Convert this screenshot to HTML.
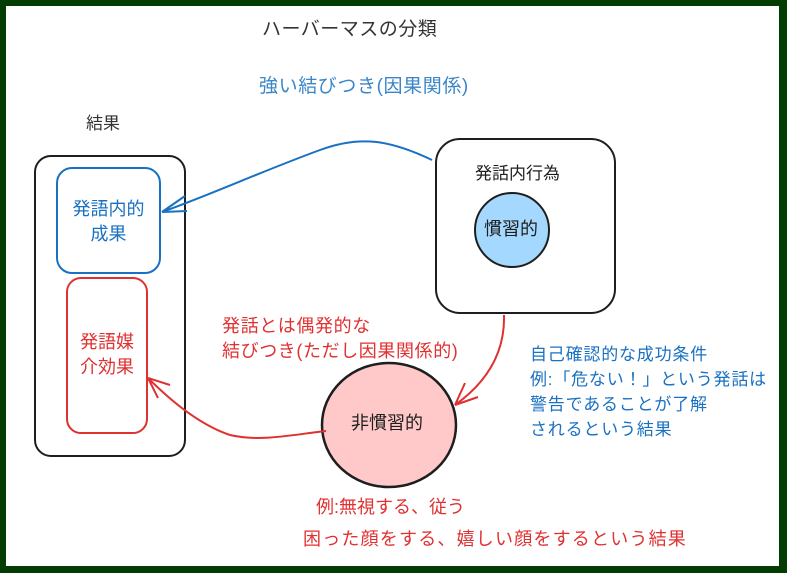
<!DOCTYPE html>
<html><head><meta charset="utf-8"><style>
html,body{margin:0;padding:0;}
body{width:787px;height:573px;background:#033d03;position:relative;overflow:hidden;font-family:"Liberation Sans","Noto Sans CJK JP",sans-serif;}
.w{position:absolute;left:6px;top:6px;width:773px;height:560px;background:#fff;}
.t{position:absolute;white-space:nowrap;line-height:1;}
</style></head><body>
<div class="w"></div>
<svg style="position:absolute;left:0;top:0" width="787" height="573">
<rect x="35" y="156" width="150" height="300" rx="16" fill="none" stroke="#1e1e1e" stroke-width="2"/>
<rect x="57" y="168" width="103" height="105" rx="15" fill="none" stroke="#1971c2" stroke-width="2"/>
<rect x="67" y="278" width="80" height="155" rx="14" fill="none" stroke="#e03131" stroke-width="2"/>
<rect x="436" y="139" width="179" height="174" rx="24" fill="none" stroke="#1e1e1e" stroke-width="2"/>
<circle cx="512" cy="230" r="37" fill="#a5d8ff" stroke="#1e1e1e" stroke-width="2"/>
<ellipse cx="389" cy="425" rx="67" ry="62" fill="#ffc9c9" stroke="#1e1e1e" stroke-width="2.5"/>
<path d="M432 160 C390 140 360 135 320 150 C260 172 210 195 162 212" fill="none" stroke="#1971c2" stroke-width="2"/>
<path d="M162 212 L185 196 M162 212 L187 211" fill="none" stroke="#1971c2" stroke-width="2"/>
<path d="M504 315 C505 350 490 380 455 405" fill="none" stroke="#e03131" stroke-width="2"/>
<path d="M455 405 L465 383 M455 405 L478 397" fill="none" stroke="#e03131" stroke-width="2"/>
<path d="M326 431 C290 435 260 442 230 435 C200 425 170 400 148 378" fill="none" stroke="#e03131" stroke-width="2"/>
<path d="M148 378 L170 385 M148 378 L158 398" fill="none" stroke="#e03131" stroke-width="2"/>
</svg>
<div class="t" style="left:262px;top:20px;font-size:19px;letter-spacing:0.5px;color:#333">ハーバーマスの分類</div>
<div class="t" style="left:259px;top:77px;font-size:19px;letter-spacing:0.6px;color:#3a86c8">強い結びつき(因果関係)</div>
<div class="t" style="left:86px;top:115px;font-size:17px;color:#333">結果</div>
<div class="t" style="left:57px;top:197px;width:103px;text-align:center;font-size:18px;line-height:25px;color:#1971c2">発語内的<br>成果</div>
<div class="t" style="left:67px;top:330px;width:80px;text-align:center;font-size:18px;line-height:25px;color:#e03131">発語媒<br>介効果</div>
<div class="t" style="left:475px;top:165px;font-size:17px;color:#1e1e1e">発話内行為</div>
<div class="t" style="left:484px;top:220px;font-size:18px;color:#1e1e1e">慣習的</div>
<div class="t" style="left:351px;top:414px;font-size:18px;color:#1e1e1e">非慣習的</div>
<div class="t" style="left:222px;top:314px;font-size:18px;letter-spacing:0.6px;line-height:25px;color:#e03131">発話とは偶発的な<br>結びつき(ただし因果関係的)</div>
<div class="t" style="left:530px;top:342px;font-size:17px;letter-spacing:0.8px;line-height:25px;color:#1971c2">自己確認的な成功条件<br>例:「危ない！」という発話は<br>警告であることが了解<br>されるという結果</div>
<div class="t" style="left:316px;top:498px;font-size:18px;color:#e03131">例:無視する、従う</div>
<div class="t" style="left:303px;top:530px;font-size:18px;letter-spacing:1.2px;color:#e03131">困った顔をする、嬉しい顔をするという結果</div>
</body></html>
